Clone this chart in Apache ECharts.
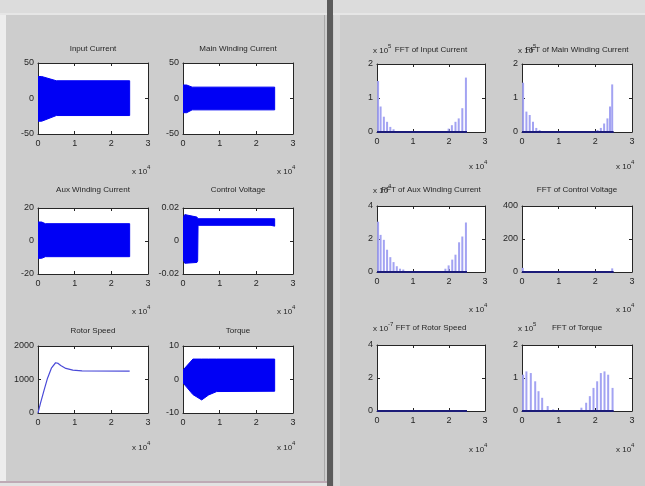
<!DOCTYPE html>
<html>
<head>
<meta charset="utf-8">
<script src="https://cdn.jsdelivr.net/npm/echarts@6/dist/echarts.min.js"></script>
<style>
html, body { margin: 0; padding: 0; background: #cbcbcb; }
#main { width: 645px; height: 486px; }
</style>
</head>
<body>
<div id="main"></div>
<script>
(function () {
    "use strict";

    /*---- time traces (x in units of 10^4) ----*/
    var inputCurrentX = [0, 0.1, 0.5, 2.5];
    var inputCurrentUp = [31, 31, 25, 25];
    var inputCurrentLo = [-32, -32, -24, -24];

    var mainCurrentX = [0, 0.1, 0.25, 2.5];
    var mainCurrentUp = [19, 19, 16, 16];
    var mainCurrentLo = [-20, -20, -16, -16];

    var auxCurrentX = [0, 0.1, 0.2, 2.5];
    var auxCurrentUp = [11.5, 11.5, 10.5, 10.5];
    var auxCurrentLo = [-10.5, -10.5, -9.5, -9.5];

    var controlVoltX = [0, 0.05, 0.38, 0.4, 0.41, 2.4, 2.5];
    var controlVoltUp = [0.014, 0.016, 0.0145, 0.0138, 0.0135, 0.0135, 0.0135];
    var controlVoltLo = [-0.011, -0.0135, -0.013, -0.012, 0.0095, 0.0095, 0.009];

    var torqueX = [0, 0.27, 0.51, 0.7, 0.92, 2.5];
    var torqueUp = [2.8, 6.1, 6.1, 6.1, 6.1, 6.1];
    var torqueLo = [-1, -4.5, -6.1, -4.6, -3.6, -3.5];

    var rotorSpeedX = [0, 0.07, 0.17, 0.26, 0.37, 0.48, 0.55, 0.62, 0.76, 0.95, 1.2, 2.5];
    var rotorSpeedY = [0, 300, 700, 1040, 1350, 1500, 1480, 1420, 1330, 1280, 1260, 1250];

    /*---- spectra (x in units of 10^4) ----*/
    var fftSpan = [0, 2.5];
    var fftInputX = [0.03, 0.1, 0.19, 0.28, 0.37, 0.46, 1.99, 2.08, 2.18, 2.27, 2.37, 2.47];
    var fftInputY = [1.5, 0.75, 0.45, 0.3, 0.15, 0.08, 0.1, 0.2, 0.3, 0.4, 0.7, 1.6];
    var fftMainX = [0.03, 0.12, 0.21, 0.3, 0.39, 0.48, 2.06, 2.15, 2.24, 2.33, 2.4, 2.46];
    var fftMainY = [1.45, 0.6, 0.5, 0.3, 0.12, 0.06, 0.06, 0.12, 0.25, 0.4, 0.75, 1.4];
    var fftAuxX = [0.03, 0.1, 0.19, 0.28, 0.37, 0.46, 0.55, 0.64, 0.73, 1.9, 1.99, 2.09, 2.18, 2.28, 2.37, 2.47];
    var fftAuxY = [3.05, 2.25, 1.95, 1.35, 0.9, 0.6, 0.35, 0.2, 0.15, 0.2, 0.4, 0.75, 1.05, 1.8, 2.15, 3.0];
    var fftControlX = [0.02, 2.46];
    var fftControlY = [25, 22];
    var fftRotorX = [0.02];
    var fftRotorY = [0.05];
    var fftTorqueX = [0.03, 0.12, 0.24, 0.36, 0.45, 0.55, 0.7, 0.85, 1.62, 1.75, 1.85, 1.95, 2.05, 2.15, 2.25, 2.35, 2.47];
    var fftTorqueY = [1.1, 1.2, 1.15, 0.9, 0.6, 0.4, 0.15, 0.05, 0.1, 0.25, 0.45, 0.7, 0.9, 1.15, 1.2, 1.1, 0.7];

    /*---- titles and axis ranges ----*/
    var titles = ['Input Current', 'Main Winding Current', 'Aux Winding Current', 'Control Voltage', 'Rotor Speed', 'Torque',
        'FFT of Input Current', 'FFT of Main Winding Current', 'FFT of Aux Winding Current', 'FFT of Control Voltage', 'FFT of Rotor Speed', 'FFT of Torque'];
    var yMin = [-50, -50, -20, -0.02, 0, -10, 0, 0, 0, 0, 0, 0];
    var yMax = [50, 50, 20, 0.02, 2000, 10, 2, 2, 4, 400, 4, 2];
    var yStep = [50, 50, 20, 0.02, 1000, 10, 1, 1, 2, 200, 2, 1];
    var xTicks = [0, 1, 2, 3];
    var xExp = '4';
    var yExp = [null, null, null, null, null, null, '5', '5', '4', null, '-7', '5'];

    // boxes: [left, top, width, height]
    var boxes = [
        [38, 63, 110, 71], [183, 63, 110, 71],
        [38, 208, 110, 66], [183, 208, 110, 66],
        [38, 346, 110, 67], [183, 346, 110, 67],
        [377, 64, 108, 68], [522, 64, 110, 68],
        [377, 206, 108, 66], [522, 206, 110, 66],
        [377, 345, 108, 66], [522, 345, 110, 66]
    ];
    var titleY = [49, 49, 190, 190, 331, 331, 50, 50, 190, 190, 328, 328];
    var expY = [172, 172, 312, 312, 448, 448, 167, 167, 310, 310, 450, 450];

    var ink = '#262626';
    var font = 'Liberation Sans';

    var grids = [], xAxes = [], yAxes = [], series = [], graphics = [];

    function fmt(v) { return String(v); }

    boxes.forEach(function (b, i) {
        grids.push({ left: b[0], top: b[1], width: b[2], height: b[3], show: true,
            backgroundColor: '#ffffff', borderWidth: 0, containLabel: false });
        var tickStyle = { inside: true, length: 3, lineStyle: { color: ink, width: 1 } };
        var lineStyle = { show: true, onZero: false, lineStyle: { color: ink, width: 1 } };
        xAxes.push({ gridIndex: i, type: 'value', min: xTicks[0], max: xTicks[xTicks.length - 1], interval: 1,
            axisLine: lineStyle, axisTick: tickStyle, splitLine: { show: false },
            axisLabel: { fontSize: 9, color: ink, fontFamily: font, margin: 5, formatter: fmt } });
        xAxes.push({ gridIndex: i, type: 'value', position: 'top', min: xTicks[0], max: xTicks[xTicks.length - 1], interval: 1,
            axisLine: lineStyle, axisTick: tickStyle, splitLine: { show: false }, axisLabel: { show: false } });
        yAxes.push({ gridIndex: i, type: 'value', min: yMin[i], max: yMax[i], interval: yStep[i],
            axisLine: lineStyle, axisTick: tickStyle, splitLine: { show: false },
            axisLabel: { fontSize: 9, color: ink, fontFamily: font, margin: 4, formatter: fmt } });
        yAxes.push({ gridIndex: i, type: 'value', position: 'right', min: yMin[i], max: yMax[i], interval: yStep[i],
            axisLine: lineStyle, axisTick: tickStyle, splitLine: { show: false }, axisLabel: { show: false } });

        graphics.push({ type: 'text', x: b[0] + b[2] / 2, y: titleY[i],
            style: { text: titles[i], fill: ink, font: '8px "' + font + '"', textAlign: 'center', textVerticalAlign: 'middle' } });
        // x-axis exponent
        graphics.push({ type: 'text', x: b[0] + b[2] - 16, y: expY[i],
            style: { text: 'x 10', fill: ink, font: '8px "' + font + '"', textAlign: 'left', textVerticalAlign: 'middle' } });
        graphics.push({ type: 'text', x: b[0] + b[2] - 1, y: expY[i] - 5,
            style: { text: xExp, fill: ink, font: '6px "' + font + '"', textAlign: 'left', textVerticalAlign: 'middle' } });
        if (yExp[i]) {
            graphics.push({ type: 'text', x: b[0] - 4, y: titleY[i] + 1,
                style: { text: 'x 10', fill: ink, font: '8px "' + font + '"', textAlign: 'left', textVerticalAlign: 'middle' } });
            graphics.push({ type: 'text', x: b[0] + 11, y: titleY[i] - 4,
                style: { text: yExp[i], fill: ink, font: '6px "' + font + '"', textAlign: 'left', textVerticalAlign: 'middle' } });
        }
    });

    function band(i, xs, up, lo) {
        series.push({
            type: 'custom', xAxisIndex: i * 2, yAxisIndex: i * 2, silent: true, clip: true,
            data: [[xs[0], up[0]]],
            renderItem: function (params, api) {
                var pts = [];
                for (var k = 0; k < xs.length; k++) pts.push(api.coord([xs[k], up[k]]));
                for (var m = xs.length - 1; m >= 0; m--) pts.push(api.coord([xs[m], lo[m]]));
                return { type: 'polygon', shape: { points: pts }, style: { fill: '#0000f5', stroke: '#0000f5', lineWidth: 1 } };
            }
        });
    }

    function pairs(xs, ys) {
        return xs.map(function (x, k) { return [x, ys[k]]; });
    }

    function spectrum(i, xs, ys) {
        series.push({
            type: 'bar', xAxisIndex: i * 2, yAxisIndex: i * 2, silent: true,
            barWidth: 2, itemStyle: { color: '#a3a3f2' },
            data: pairs(xs, ys)
        });
        series.push({
            type: 'line', xAxisIndex: i * 2, yAxisIndex: i * 2, silent: true, symbol: 'none', z: 3,
            lineStyle: { color: '#1c1c78', width: 2 },
            data: [[fftSpan[0], 0], [fftSpan[1], 0]]
        });
    }

    band(0, inputCurrentX, inputCurrentUp, inputCurrentLo);
    band(1, mainCurrentX, mainCurrentUp, mainCurrentLo);
    band(2, auxCurrentX, auxCurrentUp, auxCurrentLo);
    band(3, controlVoltX, controlVoltUp, controlVoltLo);
    series.push({
        type: 'line', xAxisIndex: 8, yAxisIndex: 8, silent: true, symbol: 'none',
        lineStyle: { color: '#4a4ad8', width: 1.2 },
        data: pairs(rotorSpeedX, rotorSpeedY)
    });
    band(5, torqueX, torqueUp, torqueLo);

    spectrum(6, fftInputX, fftInputY);
    spectrum(7, fftMainX, fftMainY);
    spectrum(8, fftAuxX, fftAuxY);
    spectrum(9, fftControlX, fftControlY);
    spectrum(10, fftRotorX, fftRotorY);
    spectrum(11, fftTorqueX, fftTorqueY);

    /*---- window chrome ----*/
    var chrome = [
        { type: 'rect', shape: { x: 0, y: 0, width: 645, height: 13 }, style: { fill: '#dcdcdc' } },
        { type: 'rect', shape: { x: 0, y: 13, width: 645, height: 2 }, style: { fill: '#e6e6e6' } },
        { type: 'rect', shape: { x: 0, y: 15, width: 6, height: 467 }, style: { fill: '#ededed' } },
        { type: 'rect', shape: { x: 324, y: 15, width: 1, height: 467 }, style: { fill: '#a9a9a9' } },
        { type: 'rect', shape: { x: 327, y: 0, width: 6, height: 486 }, style: { fill: '#5c5c5c' } },
        { type: 'rect', shape: { x: 334, y: 15, width: 6, height: 471 }, style: { fill: '#d8d8d8' } },
        { type: 'rect', shape: { x: 0, y: 481, width: 327, height: 2 }, style: { fill: '#bfaab5' } },
        { type: 'rect', shape: { x: 0, y: 483, width: 327, height: 3 }, style: { fill: '#e2e2e2' } }
    ];
    chrome.forEach(function (c) { c.z = -100; c.silent = true; });

    var option = {
        backgroundColor: '#cdcdcd',
        animation: false,
        grid: grids,
        xAxis: xAxes,
        yAxis: yAxes,
        series: series,
        graphic: chrome.concat(graphics)
    };

    var chartMain = echarts.init(document.getElementById('main'));
    chartMain.setOption(option);
})();
</script>
</body>
</html>
